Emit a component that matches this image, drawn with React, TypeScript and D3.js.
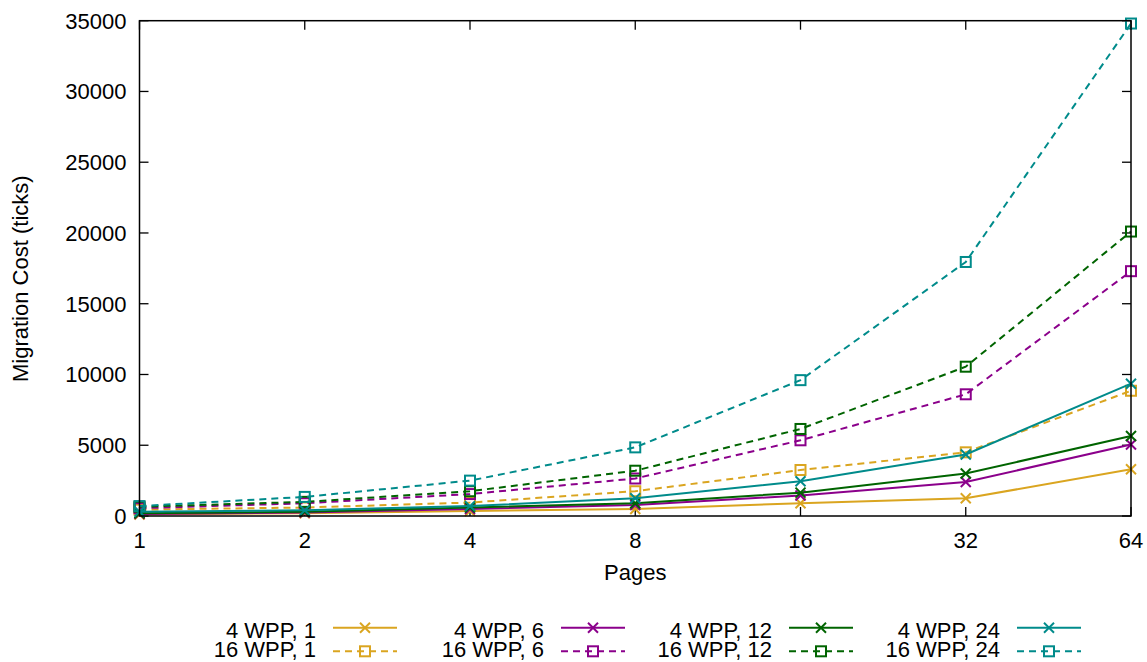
import React from "react";
import * as d3 from "d3";

const pages = [1, 2, 4, 8, 16, 32, 64];
const yTicks = [0, 5000, 10000, 15000, 20000, 25000, 30000, 35000];

const w4_1 = [100, 200, 350, 500, 900, 1250, 3300];
const w4_6 = [150, 250, 500, 780, 1450, 2400, 5050];
const w4_12 = [200, 300, 600, 900, 1650, 3000, 5650];
const w4_24 = [300, 400, 700, 1250, 2450, 4350, 9350];
const w16_1 = [450, 600, 950, 1750, 3250, 4500, 8850];
const w16_6 = [550, 900, 1550, 2650, 5350, 8600, 17300];
const w16_12 = [650, 1000, 1750, 3200, 6150, 10550, 20100];
const w16_24 = [700, 1350, 2500, 4850, 9600, 17950, 34800];

const colors = ["#DAA520", "#8B008B", "#006400", "#008B8B"];

const series = [
  { name: "4 WPP, 1", values: w4_1, group: 0, dashed: false },
  { name: "16 WPP, 1", values: w16_1, group: 0, dashed: true },
  { name: "4 WPP, 6", values: w4_6, group: 1, dashed: false },
  { name: "16 WPP, 6", values: w16_6, group: 1, dashed: true },
  { name: "4 WPP, 12", values: w4_12, group: 2, dashed: false },
  { name: "16 WPP, 12", values: w16_12, group: 2, dashed: true },
  { name: "4 WPP, 24", values: w4_24, group: 3, dashed: false },
  { name: "16 WPP, 24", values: w16_24, group: 3, dashed: true },
];

const W = 1147;
const H = 662;
const L = 139.5, R = 1131, T = 20.7, B = 516;
const FONT = "'Liberation Sans', Arial, sans-serif";
const FS = 22;
const DASH = "7,5";

function Marker({ x, y, square, color }: { x: number; y: number; square: boolean; color: string }) {
  const s = 5;
  if (square) {
    return <rect x={x - s} y={y - s} width={2 * s} height={2 * s} fill="none" stroke={color} strokeWidth={2} />;
  }
  return (
    <g stroke={color} strokeWidth={2}>
      <line x1={x - s} y1={y - s} x2={x + s} y2={y + s} />
      <line x1={x - s} y1={y + s} x2={x + s} y2={y - s} />
    </g>
  );
}

export default function App() {
  const x = d3.scaleLog().base(2).domain([1, 64]).range([L, R]);
  const y = d3.scaleLinear().domain([0, 35000]).range([B, T]);
  const line = d3
    .line<number>()
    .x((_, i) => x(pages[i]))
    .y((d) => y(d));
  const tl = 9;

  return (
    <svg width={W} height={H} style={{ position: "absolute", left: 0, top: 0 }} fontFamily={FONT} fontSize={FS}>
      <rect x={0} y={0} width={W} height={H} fill="white" />
      <g stroke="black" strokeWidth={1.3}>
        {yTicks.map((t) => (
          <g key={"y" + t}>
            <line x1={L} x2={L + tl} y1={y(t)} y2={y(t)} />
            <line x1={R} x2={R - tl} y1={y(t)} y2={y(t)} />
          </g>
        ))}
        {pages.map((p) => (
          <g key={"x" + p}>
            <line x1={x(p)} x2={x(p)} y1={B} y2={B - tl} />
            <line x1={x(p)} x2={x(p)} y1={T} y2={T + tl} />
          </g>
        ))}
      </g>
      {yTicks.map((t) => (
        <text key={"yl" + t} x={L - 13} y={y(t) + 8} textAnchor="end">
          {t}
        </text>
      ))}
      {pages.map((p) => (
        <text key={"xl" + p} x={x(p)} y={548} textAnchor="middle">
          {p}
        </text>
      ))}
      <text x={(L + R) / 2} y={580} textAnchor="middle">
        Pages
      </text>
      <text transform="translate(28.3,382) rotate(-90)" textAnchor="start">
        Migration Cost (ticks)
      </text>
      {series.map((s) => (
        <g key={s.name}>
          <path
            d={line(s.values) || ""}
            fill="none"
            stroke={colors[s.group]}
            strokeWidth={2}
            strokeDasharray={s.dashed ? DASH : undefined}
          />
          {s.values.map((v, i) => (
            <Marker key={i} x={x(pages[i])} y={y(v)} square={s.dashed} color={colors[s.group]} />
          ))}
        </g>
      ))}
      <rect x={L} y={T} width={R - L} height={B - T} fill="none" stroke="black" strokeWidth={1.5} />
      {series.map((s) => {
        const col = s.group;
        const row = s.dashed ? 1 : 0;
        const tr = 316 + col * 228;
        const ly = row === 0 ? 627.7 : 651.3;
        const ty = row === 0 ? 638 : 657;
        const x1 = tr + 17;
        const x2 = tr + 81;
        return (
          <g key={"lg" + s.name}>
            <text x={tr} y={ty} textAnchor="end">
              {s.name}
            </text>
            <line
              x1={x1}
              x2={x2}
              y1={ly}
              y2={ly}
              stroke={colors[s.group]}
              strokeWidth={2}
              strokeDasharray={s.dashed ? DASH : undefined}
            />
            <Marker x={(x1 + x2) / 2} y={ly} square={s.dashed} color={colors[s.group]} />
          </g>
        );
      })}
    </svg>
  );
}
